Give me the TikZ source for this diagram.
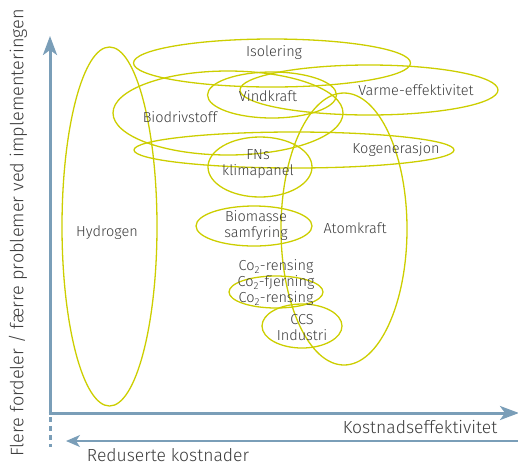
\documentclass[tikz,border=0pt]{standalone}
\usepackage{fontspec}
\setmainfont{Fira Sans}[UprightFont=* Light]
\usetikzlibrary{shapes.geometric,arrows.meta}
\definecolor{gul}{RGB}{204,206,0}
\definecolor{akse}{RGB}{122,158,184}
\definecolor{tekst}{RGB}{60,60,60}
\tikzset{
  felt/.style n args={2}{draw=gul, line width=1.3pt, ellipse, inner sep=0pt, minimum width=#1, minimum height=#2},
  merke/.style={text=tekst, font=\fontsize{14.5}{16}\selectfont, inner sep=0pt, align=center},
  aksetekst/.style={text=tekst, font=\fontsize{17.5}{20}\selectfont, inner sep=0pt},
}
\begin{document}
\begin{tikzpicture}[x=1pt,y=-1pt]
	\useasboundingbox (0,0) rectangle (518,467);
	% omraader
	\node[felt={95pt}{359pt}] (hydrogen) at (109.5,226.5) {};
	\node[felt={277pt}{48pt}] (isolering) at (272,63) {};
	\node[felt={258pt}{50pt}] (varme) at (369,90) {};
	\node[felt={129pt}{46pt}] (vindkraft) at (272,95) {};
	\node[felt={230pt}{84pt}] (biodrivstoff) at (228,113) {};
	\node[felt={320pt}{36pt}] (kogenerasjon) at (294,150) {};
	\node[felt={104pt}{60pt}] (fns) at (260,167) {};
	\node[felt={116pt}{40pt}] (biomasse) at (254,226) {};
	\node[felt={126pt}{272pt}] (atomkraft) at (344,229) {};
	\node[felt={94pt}{32pt}] (co2) at (276,292) {};
	\node[felt={80pt}{44pt}] (ccs) at (302,326) {};
	% tekster
	\node[merke] (hydrogentekst) at (107,233) {Hydrogen};
	\node[merke] (isoleringtekst) at (274,53) {Isolering};
	\node[merke] (varmetekst) at (416,90) {Varme-effektivitet};
	\node[merke] (vindtekst) at (268,96) {Vindkraft};
	\node[merke] (biotekst) at (180,117) {Biodrivstoff};
	\node[merke] (kogentekst) at (396,150) {Kogenerasjon};
	\node[merke] (fnstekst) at (258,164) {FNs\\klimapanel};
	\node[merke] (biomassetekst) at (256,226) {Biomasse\\samfyring};
	\node[merke] (atomtekst) at (355,228) {Atomkraft};
	\node[merke] (co2tekst) at (276,283) {Co\textsubscript{2}-rensing\\Co\textsubscript{2}-fjerning\\Co\textsubscript{2}-rensing};
	\node[merke] (ccstekst) at (302,328) {CCS\\Industri};
	% akser
	\coordinate (origo) at (50,413);
	\coordinate (ytopp) at (50,36);
	\coordinate (xende) at (519,413);
	\coordinate (stipling) at (50,447);
	\coordinate (koststart) at (518,441);
	\coordinate (kostslutt) at (66,441);
	\draw[akse, line width=3pt, -{Stealth[length=19pt,width=14pt,inset=5pt]}] (origo) -- (ytopp);
	\draw[akse, line width=3pt, -{Stealth[length=19pt,width=14pt,inset=5pt]}] ([xshift=-1.5pt]origo) -- (xende);
	\draw[akse, line width=3pt, dash pattern=on 5pt off 4pt] ([yshift=5pt]origo) -- (stipling);
	\draw[akse, line width=1.8pt, -{Stealth[length=14pt,width=12pt,inset=4pt]}] (koststart) -- (kostslutt);
	\node[aksetekst, font=\fontsize{18.1}{20}\selectfont] (ytekst) at (18,233) [rotate=90] {Flere fordeler / færre problemer ved implementeringen};
	\node[aksetekst] (xtekst) at (420,427) {Kostnadseffektivitet};
	\node[aksetekst] (kosttekst) at (168,455) {Reduserte kostnader};
\end{tikzpicture}
\end{document}
